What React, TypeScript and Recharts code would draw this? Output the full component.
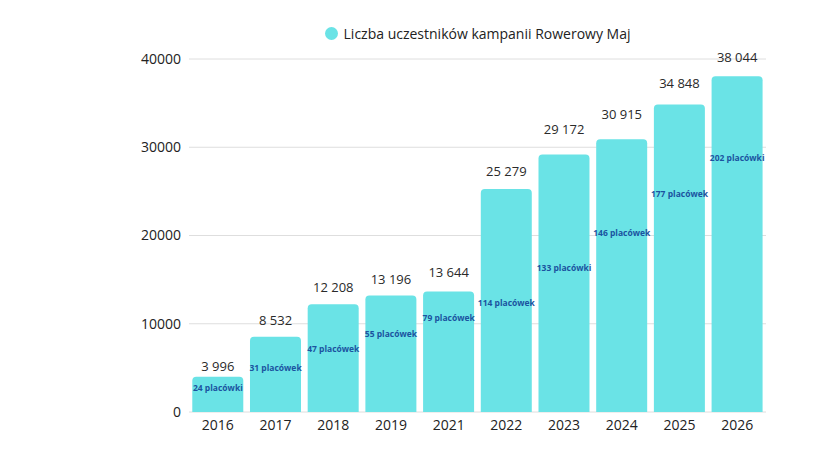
import React from "react";
import { ComposedChart, Bar, Line, XAxis, YAxis, CartesianGrid, LabelList } from "recharts";

const years = ["2016", "2017", "2018", "2019", "2021", "2022", "2023", "2024", "2025", "2026"];
const participants = [3996, 8532, 12208, 13196, 13644, 25279, 29172, 30915, 34848, 38044];
const facilityLabels = [
  "24 placówki", "31 placówek", "47 placówek", "55 placówek", "79 placówek",
  "114 placówek", "133 placówki", "146 placówek", "177 placówek", "202 placówki",
];
// vertical anchors of the labels, in data units
const facilityLabelAt = [2700, 5000, 7100, 8800, 10600, 12300, 16300, 20300, 24700, 28800];
const valueLabelAt = [5200, 10400, 14150, 15050, 15850, 27300, 32050, 33750, 37250, 40200];
const yTicks = [0, 10000, 20000, 30000, 40000];
const seriesName = "Liczba uczestników kampanii Rowerowy Maj";

const fmt = (v: number) => String(v).replace(/\B(?=(\d{3})+(?!\d))/g, "\u00A0");

const data = years.map((y, i) => ({
  year: y,
  value: participants[i],
  label: fmt(participants[i]),
  labelAt: valueLabelAt[i],
  fac: facilityLabels[i].replace(" ", "\u00A0"),
  facAt: facilityLabelAt[i],
}));

const FONT = "'Open Sans', 'Noto Sans', sans-serif";
const BAR = "#6ae3e6";

export default function App() {
  return (
    <div style={{ position: "absolute", left: 0, top: 0, width: 840, height: 472, background: "#fff" }}>
      <div
        style={{
          position: "absolute", left: 189, width: 577, top: 23, height: 20,
          display: "flex", alignItems: "center", justifyContent: "center",
          fontFamily: FONT, fontSize: 14, color: "#222", zIndex: 2,
        }}
      >
        <span style={{ display: "inline-block", width: 13, height: 13, borderRadius: "50%", background: BAR, marginRight: 6 }} />
        <span>{seriesName}</span>
      </div>
      <ComposedChart
        width={840}
        height={472}
        data={data}
        margin={{ top: 59, right: 74, bottom: 30, left: 129 }}
        barCategoryGap="5.7%"
      >
        <CartesianGrid vertical={false} stroke="#dedede" />
        <XAxis
          dataKey="year"
          axisLine={false}
          tickLine={false}
          height={30}
          tick={{ fontFamily: FONT, fontSize: 14, fill: "#222" }}
        />
        <YAxis
          domain={[0, 40000]}
          ticks={yTicks}
          axisLine={false}
          tickLine={false}
          width={60}
          allowDataOverflow
          tick={{ fontFamily: FONT, fontSize: 14, fill: "#222" }}
        />
        <Bar dataKey="value" name={seriesName} fill={BAR} radius={[4, 4, 0, 0]} isAnimationActive={false} />
        <Line
          dataKey="labelAt"
          stroke="none"
          dot={false}
          activeDot={false}
          legendType="none"
          isAnimationActive={false}
        >
          <LabelList dataKey="label" position="center" style={{ fontFamily: FONT, fontSize: 13, fill: "#2a2a2a" }} />
        </Line>
        <Line
          dataKey="facAt"
          stroke="none"
          dot={false}
          activeDot={false}
          legendType="none"
          isAnimationActive={false}
        >
          <LabelList dataKey="fac" position="center" style={{ fontFamily: FONT, fontSize: 8.5, fontWeight: 700, fill: "#1b53a0" }} />
        </Line>
      </ComposedChart>
    </div>
  );
}
